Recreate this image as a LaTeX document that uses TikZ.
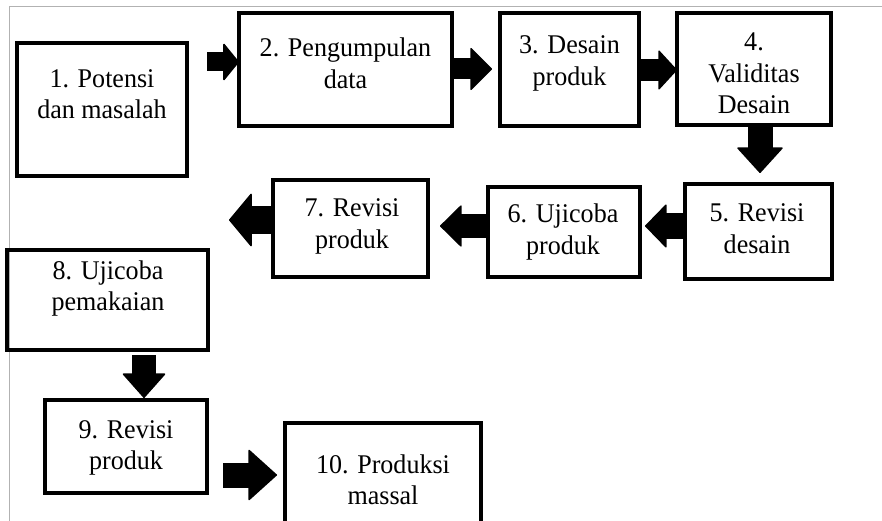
\documentclass[tikz,border=0pt]{standalone}
\usepackage{fontspec}
\setmainfont{Liberation Serif}[FakeStretch=0.965]
\usetikzlibrary{arrows.meta}
\tikzset{
  box/.style={draw, line width=3.5pt, line join=miter, inner sep=0pt, outer sep=0pt},
  txt/.style={align=center, inner sep=0pt, font=\fontsize{27}{31.5}\selectfont},
  blk/.style n args={3}{line width=#1, line cap=butt,
    -{Triangle[length=#2, width=#3, round, line width=1.5pt]}},
  framec/.style={draw=black!30, line width=1pt}
}
\begin{document}
\begin{tikzpicture}[x=1pt, y=-1pt]
\useasboundingbox (0,0) rectangle (882,521);
\clip (0,0) rectangle (882,521);
\fill[white] (0,0) rectangle (882,521);
% frame lines
\draw[framec] (9,7) -- (882,7);
\draw[framec] (9,7) -- (9,521);
% boxes
\node[box, minimum width=170pt, minimum height=133pt] (b1) at (102,109.5) {};
\node[box, minimum width=213pt, minimum height=113pt] (b2) at (345.5,69.5) {};
\node[box, minimum width=139pt, minimum height=113pt] (b3) at (569.5,69.5) {};
\node[box, minimum width=154pt, minimum height=112pt] (b4) at (754,69) {};
\node[box, minimum width=147pt, minimum height=95pt] (b5) at (758.5,231.5) {};
\node[box, minimum width=152pt, minimum height=90pt] (b6) at (564,232) {};
\node[box, minimum width=155pt, minimum height=97pt] (b7) at (350.5,228.5) {};
\node[box, minimum width=201pt, minimum height=100pt] (b8) at (107.5,300) {};
\node[box, minimum width=162pt, minimum height=93pt] (b9) at (126,446.5) {};
\node[box, minimum width=196pt, minimum height=137pt] (b10) at (383,491.5) {};
% texts
\node[txt] (t1) at (102,94) {1. Potensi\\dan masalah};
\node[txt] (t2) at (345.5,63.5) {2. Pengumpulan\\data};
\node[txt] (t3) at (569.5,63.5) {3. Desain\\produk};
\node[txt] (t4) at (754,73.5) {4.\\Validitas\\Desain};
\node[txt] (t5) at (757,228.5) {5. Revisi\\desain};
\node[txt] (t6) at (563,232) {6. Ujicoba\\produk};
\node[txt] (t7) at (352,226.5) {7. Revisi\\produk};
\node[txt] (t8) at (108,288.5) {8. Ujicoba\\pemakaian};
\node[txt] (t9) at (126,448) {9. Revisi\\produk};
\node[txt] (t10) at (383,480) {10. Produksi\\massal};
% free end
\coordinate (c78) at (229,220);
% block arrows
\draw[blk={19pt}{16pt}{39pt}, shorten <=20pt] (b1.east |- 0,62) -- (b2.west |- 0,62);
\draw[blk={21pt}{22pt}{44pt}, shorten >=8pt] (b2.east |- 0,69) -- (b3.west |- 0,69);
\draw[blk={22pt}{19pt}{41pt}] (b3.east |- 0,70) -- (b4.west |- 0,70);
\draw[blk={25pt}{26pt}{47pt}, shorten >=11pt] (b4.south -| 760,0) -- (b5.north -| 760,0);
\draw[blk={25pt}{22pt}{45pt}, shorten >=5pt] (b5.west |- 0,226) -- (b6.east |- 0,226);
\draw[blk={23pt}{22pt}{43pt}, shorten >=12pt] (b6.west |- 0,226) -- (b7.east |- 0,226);
\draw[blk={28pt}{23pt}{55pt}] (b7.west |- 0,220) -- (c78);
\draw[blk={24pt}{25pt}{44pt}, shorten <=5pt, shorten >=2pt] (b8.south -| 144,0) -- (b9.north -| 144,0);
\draw[blk={25pt}{29pt}{52pt}, shorten <=16pt, shorten >=8pt] (b9.east |- 0,475) -- (b10.west |- 0,475);
\end{tikzpicture}
\end{document}
